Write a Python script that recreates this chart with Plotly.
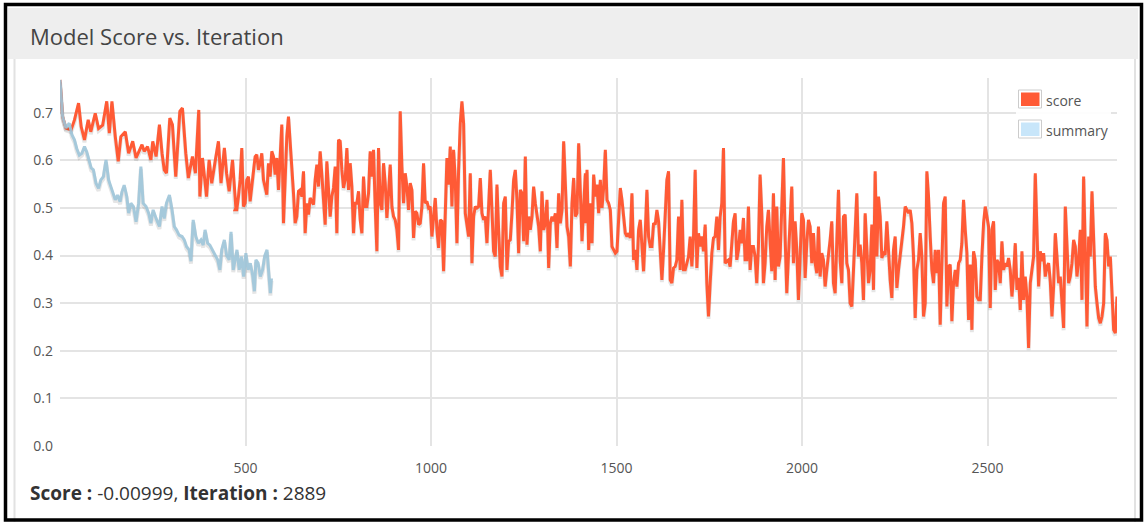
import numpy as np
import plotly.graph_objects as go

# ---------------- data ----------------
# score, first stretch (explicit iterations)
score_iter_1 = [0, 7, 16, 30, 39, 50, 57, 66, 76, 83, 95, 104, 115, 126, 133, 140, 149, 157, 164, 176,
                185, 196, 205, 221, 227, 236, 245, 250, 259, 268, 275, 281, 287, 296, 303, 312, 323, 330, 339, 346,
                357, 365, 374, 377, 384, 395, 402, 409, 418, 427, 434, 443, 449, 456, 465, 474]
score_1 = [0.769, 0.692, 0.668, 0.664, 0.685, 0.72, 0.671, 0.643, 0.685, 0.66, 0.699, 0.667, 0.674, 0.724, 0.657,
           0.724, 0.65, 0.598, 0.65, 0.66, 0.615, 0.64, 0.605, 0.633, 0.619, 0.629, 0.601, 0.64, 0.608, 0.675,
           0.615, 0.58, 0.573, 0.689, 0.675, 0.566, 0.703, 0.71, 0.615, 0.563, 0.608, 0.573, 0.706, 0.524, 0.605,
           0.524, 0.601, 0.552, 0.597, 0.64, 0.552, 0.626, 0.573, 0.535, 0.601, 0.50]

# score, following stretches (evenly spaced samples between the given iteration bounds)
score_2 = [0.496, 0.496, 0.524, 0.559, 0.626, 0.503, 0.51, 0.559, 0.566, 0.514, 0.545, 0.58, 0.608, 0.612, 0.58,
           0.594, 0.615, 0.559, 0.542, 0.528, 0.594, 0.566, 0.619, 0.608, 0.57, 0.605, 0.538, 0.626, 0.675, 0.468,
           0.58, 0.65, 0.692, 0.643, 0.594, 0.531, 0.468, 0.482, 0.535, 0.538, 0.524, 0.577, 0.447, 0.51, 0.486,
           0.521, 0.514, 0.507, 0.559, 0.591, 0.545, 0.619, 0.57, 0.51, 0.465, 0.598, 0.538, 0.482, 0.524, 0.542,
           0.587, 0.447, 0.643, 0.64, 0.58, 0.542, 0.559, 0.626, 0.538, 0.594, 0.545, 0.447, 0.51, 0.51, 0.535,
           0.475, 0.447, 0.566, 0.503, 0.503, 0.531, 0.619, 0.566, 0.622, 0.503, 0.409, 0.626, 0.51, 0.496, 0.594,
           0.552, 0.479, 0.531, 0.591, 0.503, 0.482, 0.475, 0.454, 0.412, 0.703, 0.587, 0.51, 0.573, 0.545, 0.496,
           0.552]
score_3 = [0.552, 0.538, 0.437, 0.493, 0.489, 0.465, 0.468, 0.503, 0.594, 0.51, 0.514, 0.50, 0.503, 0.44, 0.475,
           0.521, 0.454, 0.416, 0.475, 0.472, 0.367, 0.51, 0.605, 0.549, 0.629, 0.503, 0.622, 0.559, 0.426, 0.58,
           0.678, 0.724, 0.678, 0.489, 0.468, 0.44, 0.573, 0.384, 0.482, 0.503, 0.50, 0.503, 0.563, 0.489, 0.475,
           0.482, 0.426, 0.496, 0.58, 0.496, 0.409, 0.398, 0.549, 0.454, 0.377, 0.356, 0.51, 0.524, 0.37, 0.43,
           0.433, 0.489, 0.559, 0.58, 0.517, 0.405, 0.538, 0.531, 0.43, 0.608, 0.423, 0.482, 0.454, 0.482, 0.545,
           0.51, 0.489, 0.461, 0.409, 0.535, 0.454, 0.468, 0.517, 0.374, 0.468, 0.482, 0.472, 0.489, 0.416, 0.531,
           0.468, 0.496, 0.64, 0.552, 0.461, 0.44, 0.377, 0.51, 0.563, 0.482, 0.489, 0.636, 0.51, 0.43, 0.503,
           0.573]
score_4 = [0.468, 0.58, 0.412, 0.51, 0.426, 0.57, 0.524, 0.549, 0.489, 0.559, 0.50, 0.542, 0.622, 0.517, 0.51,
           0.496, 0.419, 0.412, 0.405, 0.409, 0.482, 0.542, 0.517, 0.482, 0.447, 0.44, 0.447, 0.437, 0.531, 0.391,
           0.412, 0.37, 0.454, 0.475, 0.412, 0.367, 0.447, 0.538, 0.44, 0.419, 0.419, 0.468, 0.465, 0.496, 0.472,
           0.412, 0.349, 0.412, 0.503, 0.559, 0.577, 0.349, 0.342, 0.374, 0.377, 0.391, 0.482, 0.37, 0.517, 0.37,
           0.37, 0.388, 0.398, 0.44, 0.377, 0.44, 0.58, 0.374, 0.447, 0.419, 0.44, 0.409, 0.465, 0.342, 0.272,
           0.342, 0.405, 0.437, 0.44, 0.482, 0.412, 0.482, 0.51, 0.626, 0.384, 0.388, 0.391, 0.377, 0.426, 0.472,
           0.489, 0.391, 0.412, 0.454, 0.426, 0.479, 0.391, 0.391, 0.503, 0.37, 0.419, 0.419, 0.398, 0.342, 0.419,
           0.57]
score_5 = [0.57, 0.489, 0.342, 0.384, 0.461, 0.496, 0.44, 0.367, 0.531, 0.349, 0.503, 0.377, 0.398, 0.51, 0.605,
           0.44, 0.321, 0.398, 0.475, 0.545, 0.384, 0.472, 0.412, 0.307, 0.398, 0.489, 0.475, 0.353, 0.426, 0.475,
           0.461, 0.384, 0.447, 0.384, 0.363, 0.461, 0.356, 0.405, 0.391, 0.335, 0.37, 0.398, 0.433, 0.472, 0.342,
           0.321, 0.426, 0.538, 0.391, 0.342, 0.482, 0.486, 0.384, 0.37, 0.30, 0.293, 0.37, 0.461, 0.531, 0.398,
           0.423, 0.384, 0.307, 0.489, 0.398, 0.342, 0.37, 0.465, 0.328, 0.577, 0.398, 0.524, 0.482, 0.395, 0.405,
           0.402, 0.472, 0.398, 0.349, 0.311, 0.412, 0.44, 0.332, 0.37, 0.398, 0.433, 0.461, 0.503, 0.496, 0.489,
           0.496, 0.468, 0.398, 0.269, 0.37, 0.391, 0.447, 0.398, 0.272, 0.30, 0.577, 0.524, 0.44, 0.37, 0.342,
           0.409]
score_6 = [0.412, 0.363, 0.412, 0.255, 0.37, 0.51, 0.524, 0.293, 0.377, 0.381, 0.262, 0.342, 0.37, 0.335, 0.384,
           0.391, 0.426, 0.517, 0.454, 0.405, 0.265, 0.381, 0.244, 0.409, 0.391, 0.314, 0.307, 0.307, 0.398, 0.468,
           0.503, 0.482, 0.461, 0.29, 0.454, 0.472, 0.328, 0.391, 0.384, 0.342, 0.43, 0.37, 0.384, 0.377, 0.395,
           0.37, 0.314, 0.356, 0.426, 0.328, 0.353, 0.286, 0.409, 0.307, 0.356, 0.314, 0.206, 0.342, 0.37, 0.398,
           0.573, 0.475, 0.335, 0.409, 0.388, 0.405, 0.356, 0.377, 0.384, 0.346, 0.272, 0.335, 0.447, 0.398, 0.342,
           0.356, 0.30, 0.248, 0.503, 0.426, 0.342, 0.356, 0.384, 0.433, 0.419, 0.356, 0.391, 0.454, 0.307, 0.566,
           0.384, 0.251, 0.44, 0.398, 0.535, 0.447, 0.335, 0.30, 0.269, 0.258, 0.272, 0.30, 0.447, 0.433, 0.377,
           0.398, 0.314, 0.244, 0.237, 0.314]
score_blocks = [score_2, score_3, score_4, score_5, score_6]
score_block_bounds = [(472, 944), (944, 1416), (1416, 1887), (1887, 2359), (2359, 2849)]

# summary
summary_iter = [0, 7, 16, 25, 32, 39, 45, 52, 59, 66, 72, 77, 84, 90, 97, 104, 110, 117, 124, 131,
                137, 144, 149, 155, 162, 167, 173, 180, 185, 191, 198, 205, 212, 218, 224, 232, 239, 245, 251, 259,
                268, 275, 281, 287, 295, 302, 308, 314, 321, 329, 335, 341, 348, 353, 359, 366, 373, 380, 386, 391,
                398, 404, 411, 418, 425, 431, 436, 443, 449, 456, 461, 467, 474,
                477, 483, 489, 495, 501, 507, 513, 519, 524, 528, 534, 540, 546, 552, 558, 562, 567, 570]
summary = [0.769, 0.692, 0.668, 0.678, 0.654, 0.643, 0.625, 0.611, 0.615, 0.629, 0.618, 0.601, 0.584, 0.58, 0.552,
           0.541, 0.559, 0.566, 0.601, 0.559, 0.545, 0.531, 0.517, 0.527, 0.513, 0.534, 0.548, 0.524, 0.489, 0.51,
           0.503, 0.471, 0.51, 0.587, 0.51, 0.503, 0.489, 0.468, 0.496, 0.478, 0.461, 0.503, 0.478, 0.51, 0.527,
           0.496, 0.461, 0.454, 0.443, 0.44, 0.433, 0.419, 0.412, 0.388, 0.475, 0.44, 0.426, 0.433, 0.422, 0.454,
           0.426, 0.422, 0.412, 0.401, 0.391, 0.37, 0.412, 0.433, 0.401, 0.391, 0.45, 0.37, 0.398,
           0.412, 0.37, 0.398, 0.356, 0.405, 0.37, 0.384, 0.36, 0.325, 0.391, 0.384, 0.356, 0.37, 0.40, 0.412,
           0.37, 0.321, 0.352]

x_ticks = [500, 1000, 1500, 2000, 2500]
y_ticks = [0.0, 0.1, 0.2, 0.3, 0.4, 0.5, 0.6, 0.7]
series_names = ["score", "summary"]
last_score = "-0.00999"
last_iteration = "2889"

# ---------------- assemble ----------------
score_x = list(score_iter_1)
score_y = list(score_1)
for vals, (a, b) in zip(score_blocks, score_block_bounds):
    score_x += list(np.linspace(a, b, len(vals)))
    score_y += list(vals)

RED = "#ff5a35"
BLUE_LINE = "#9fc6da"
BLUE_BOX = "#c8e6fa"
FONT = "Open Sans"

W, H = 1146, 522
PL, PR, PT, PB = 60, 1117, 78, 446


def fx(px):
    return (px - PL) / (PR - PL)


def fy(py):
    return (PB - py) / (PB - PT)


fig = go.Figure()

shadow_off = 0.005
fig.add_trace(go.Scatter(x=score_x, y=[v - shadow_off for v in score_y], mode="lines",
                         line=dict(color="rgba(0,0,0,0.10)", width=4), hoverinfo="skip", showlegend=False))
fig.add_trace(go.Scatter(x=score_x, y=score_y, mode="lines", name=series_names[0],
                         line=dict(color=RED, width=3), showlegend=False))
fig.add_trace(go.Scatter(x=summary_iter, y=[v - shadow_off for v in summary], mode="lines",
                         line=dict(color="rgba(0,0,0,0.10)", width=4), hoverinfo="skip", showlegend=False))
fig.add_trace(go.Scatter(x=summary_iter, y=summary, mode="lines", name=series_names[1],
                         line=dict(color=BLUE_LINE, width=3), opacity=0.9, showlegend=False))

shapes = []
# outer frame, header band, panel border
shapes.append(dict(type="rect", xref="paper", yref="paper", x0=fx(8), x1=fx(1138), y0=fy(8), y1=fy(59),
                   fillcolor="#eeeeee", line=dict(width=0), layer="below"))
shapes.append(dict(type="line", xref="paper", yref="paper", x0=fx(14.5), x1=fx(14.5), y0=fy(59), y1=fy(522),
                   line=dict(color="#e2e2e2", width=2), layer="below"))
shapes.append(dict(type="line", xref="paper", yref="paper", x0=fx(1135), x1=fx(1135), y0=fy(59), y1=fy(522),
                   line=dict(color="#e2e2e2", width=2), layer="below"))
shapes.append(dict(type="rect", xref="paper", yref="paper", x0=fx(5.5), x1=fx(1141.5), y0=fy(4.5), y1=fy(520),
                   line=dict(color="#000000", width=3.5), fillcolor="rgba(0,0,0,0)", layer="above"))
# legend
shapes.append(dict(type="rect", xref="paper", yref="paper", x0=fx(1016), x1=fx(1111), y0=fy(87), y1=fy(141),
                   fillcolor="rgba(255,255,255,0.9)", line=dict(width=0), layer="above"))
for (top, col) in [(90, RED), (120, BLUE_BOX)]:
    shapes.append(dict(type="rect", xref="paper", yref="paper", x0=fx(1018.5), x1=fx(1041.5), y0=fy(top),
                       y1=fy(top + 18), fillcolor="#ffffff", line=dict(color="#cccccc", width=1), layer="above"))
    shapes.append(dict(type="rect", xref="paper", yref="paper", x0=fx(1021), x1=fx(1039.5), y0=fy(top + 2.5),
                       y1=fy(top + 16), fillcolor=col, line=dict(width=0), layer="above"))

annotations = [
    dict(text="Model Score vs. Iteration", xref="paper", yref="paper", x=fx(28), y=fy(36),
         xanchor="left", yanchor="middle", showarrow=False, font=dict(family=FONT, size=22, color="#444444")),
    dict(text=series_names[0], xref="paper", yref="paper", x=fx(1044), y=fy(100),
         xanchor="left", yanchor="middle", showarrow=False, font=dict(family=FONT, size=14, color="#555555")),
    dict(text=series_names[1], xref="paper", yref="paper", x=fx(1044), y=fy(130),
         xanchor="left", yanchor="middle", showarrow=False, font=dict(family=FONT, size=14, color="#555555")),
    dict(text=f"<b>Score :</b> {last_score}, <b>Iteration :</b> {last_iteration}", xref="paper", yref="paper",
         x=fx(28), y=fy(493), xanchor="left", yanchor="middle", showarrow=False,
         font=dict(family=FONT, size=19, color="#333333")),
]

fig.update_layout(
    width=W, height=H,
    margin=dict(l=PL, r=W - PR, t=PT, b=H - PB, pad=0),
    paper_bgcolor="#ffffff", plot_bgcolor="#ffffff",
    font=dict(family=FONT, size=14, color="#555555"),
    shapes=shapes, annotations=annotations, showlegend=False,
    xaxis=dict(range=[0, 2849], tickvals=x_ticks, ticktext=[str(t) for t in x_ticks],
               showgrid=True, gridcolor="#e4e4e4", gridwidth=1.5, zeroline=False, showline=False,
               ticks="", ticklabelstandoff=12, tickfont=dict(family=FONT, size=14, color="#555555")),
    yaxis=dict(range=[0, 0.773], tickvals=y_ticks, ticktext=[f"{t:.1f}" for t in y_ticks],
               showgrid=True, gridcolor="#e4e4e4", gridwidth=1.5, zeroline=False, showline=False,
               ticks="", ticklabelstandoff=6, tickfont=dict(family=FONT, size=14, color="#555555")),
)

fig.write_html("out.html", config={"displayModeBar": False},
               post_script="document.body.style.margin='0';document.body.style.overflow='hidden';")
